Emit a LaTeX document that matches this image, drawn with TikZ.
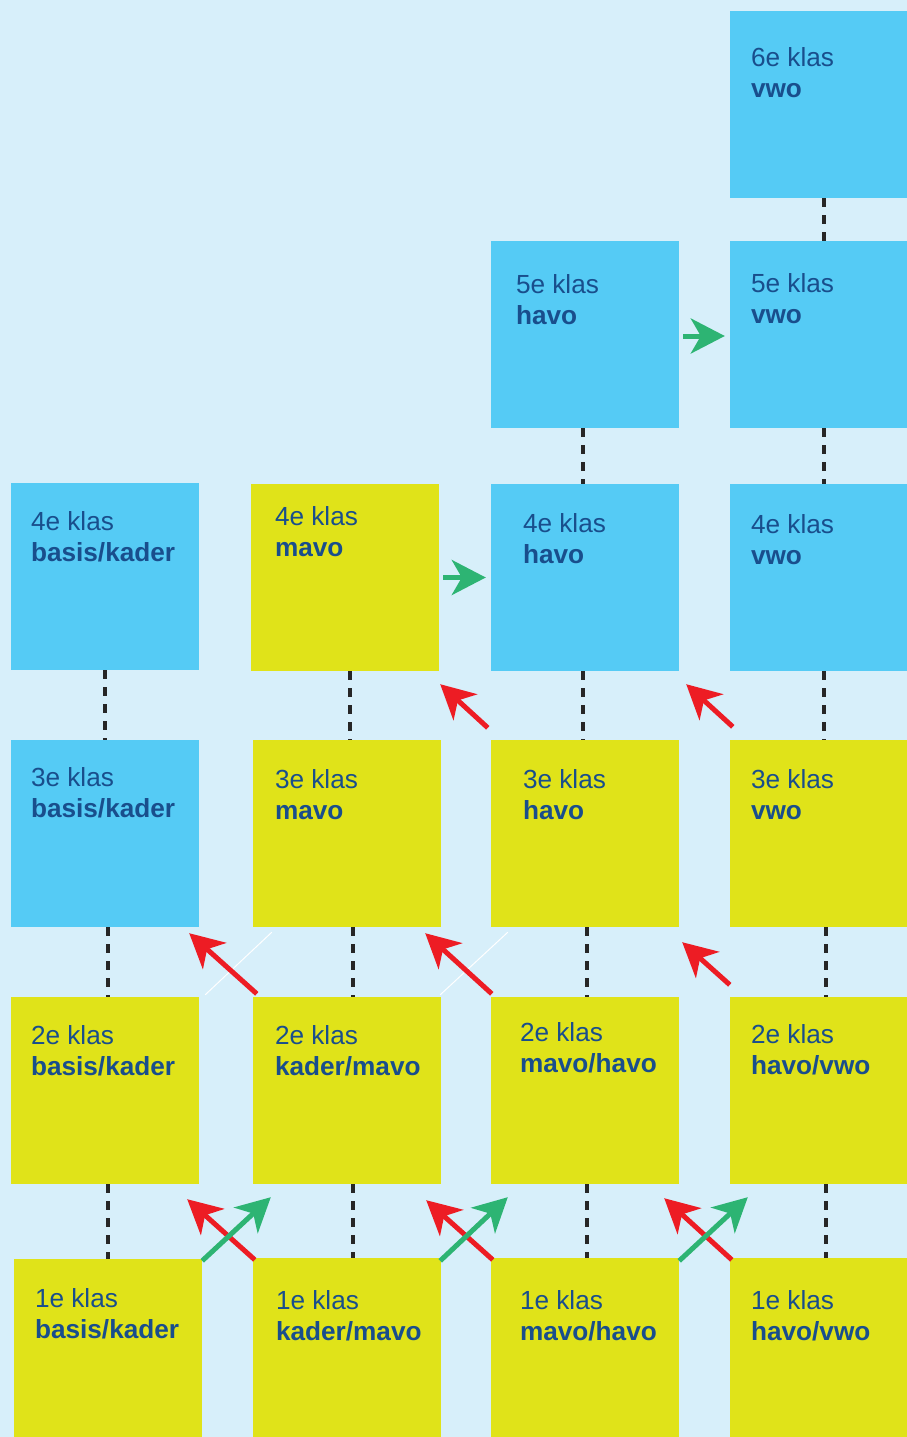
\documentclass[tikz,border=0pt]{standalone}
\usepackage{fontspec}
\setmainfont{Liberation Sans}
\usepackage{tikz}
\usetikzlibrary{arrows.meta, calc}

\definecolor{achtergrond}{RGB}{215,239,250}
\definecolor{klasblauw}{RGB}{85,203,245}
\definecolor{klasgeel}{RGB}{224,227,25}
\definecolor{klastekst}{RGB}{25,78,140}
\definecolor{pijlrood}{RGB}{237,28,36}
\definecolor{pijlgroen}{RGB}{45,180,115}

\begin{document}
\begin{tikzpicture}[x=1pt, y=-1pt]
    % --- Styles ---
    \tikzstyle{klas}=[rectangle, inner sep=0pt, minimum width=188pt, minimum height=187pt]
    \tikzstyle{blauw}=[klas, fill=klasblauw]
    \tikzstyle{geel}=[klas, fill=klasgeel]
    \tikzstyle{naam}=[anchor=north west, inner sep=0pt, align=left, text=klastekst, font=\fontsize{26.2}{31}\selectfont]
    \tikzstyle{doorloop}=[line width=4pt, color=black!85, dash pattern=on 9pt off 8pt]
    \tikzstyle{omlaag}=[line width=5pt, color=pijlrood, -{Stealth[length=34pt, width=35pt, inset=10pt]}]
    \tikzstyle{omhoog}=[line width=5pt, color=pijlgroen, -{Stealth[length=34pt, width=35pt, inset=10pt]}]
    \tikzstyle{naad}=[line width=1pt, color=white]

    % --- Background ---
    \fill[achtergrond] (0,0) rectangle (907,1437);
    \useasboundingbox (0,0) rectangle (907,1437);
    \clip (0,0) rectangle (907,1437);

    % --- 1. Klassen (boxes) ---
    \node[blauw] (k6v) at (824,104.5) {};

    \node[blauw] (k5h) at (585,334.5) {};
    \node[blauw] (k5v) at (824,334.5) {};

    \node[blauw] (k4bk) at (105,576.5) {};
    \node[geel]  (k4m)  at (345,577.5) {};
    \node[blauw] (k4h)  at (585,577.5) {};
    \node[blauw] (k4v)  at (824,577.5) {};

    \node[blauw] (k3bk) at (105,833.5) {};
    \node[geel]  (k3m)  at (347,833.5) {};
    \node[geel]  (k3h)  at (585,833.5) {};
    \node[geel]  (k3v)  at (824,833.5) {};

    \node[geel] (k2bk) at (105,1090.5) {};
    \node[geel] (k2km) at (347,1090.5) {};
    \node[geel] (k2mh) at (585,1090.5) {};
    \node[geel] (k2hv) at (824,1090.5) {};

    \node[geel] (k1bk) at (108,1352.5) {};
    \node[geel] (k1km) at (347,1351.5) {};
    \node[geel] (k1mh) at (585,1351.5) {};
    \node[geel] (k1hv) at (824,1351.5) {};

    % --- 2. Namen ---
    \node[naam] (t6v) at ([shift={(21,37)}]k6v.north west) {6e klas\\\textbf{vwo}};
    \node[naam] (t5h) at ([shift={(25,34)}]k5h.north west) {5e klas\\\textbf{havo}};
    \node[naam] (t5v) at ([shift={(21,33)}]k5v.north west) {5e klas\\\textbf{vwo}};
    \node[naam] (t4bk) at ([shift={(20,29)}]k4bk.north west) {4e klas\\\textbf{basis/kader}};
    \node[naam] (t4m) at ([shift={(24,23)}]k4m.north west) {4e klas\\\textbf{mavo}};
    \node[naam] (t4h) at ([shift={(32,30)}]k4h.north west) {4e klas\\\textbf{havo}};
    \node[naam] (t4v) at ([shift={(21,31)}]k4v.north west) {4e klas\\\textbf{vwo}};
    \node[naam] (t3bk) at ([shift={(20,28)}]k3bk.north west) {3e klas\\\textbf{basis/kader}};
    \node[naam] (t3m) at ([shift={(22,30)}]k3m.north west) {3e klas\\\textbf{mavo}};
    \node[naam] (t3h) at ([shift={(32,30)}]k3h.north west) {3e klas\\\textbf{havo}};
    \node[naam] (t3v) at ([shift={(21,30)}]k3v.north west) {3e klas\\\textbf{vwo}};
    \node[naam] (t2bk) at ([shift={(20,29)}]k2bk.north west) {2e klas\\\textbf{basis/kader}};
    \node[naam] (t2km) at ([shift={(22,29)}]k2km.north west) {2e klas\\\textbf{kader/mavo}};
    \node[naam] (t2mh) at ([shift={(29,26)}]k2mh.north west) {2e klas\\\textbf{mavo/havo}};
    \node[naam] (t2hv) at ([shift={(21,28)}]k2hv.north west) {2e klas\\\textbf{havo/vwo}};
    \node[naam] (t1bk) at ([shift={(21,29)}]k1bk.north west) {1e klas\\\textbf{basis/kader}};
    \node[naam] (t1km) at ([shift={(23,32)}]k1km.north west) {1e klas\\\textbf{kader/mavo}};
    \node[naam] (t1mh) at ([shift={(29,32)}]k1mh.north west) {1e klas\\\textbf{mavo/havo}};
    \node[naam] (t1hv) at ([shift={(21,32)}]k1hv.north west) {1e klas\\\textbf{havo/vwo}};

    % --- 3. Doorlopende leerjaren (dashed) ---
    \draw[doorloop] (k6v.south) -- (k5v.north);
    \draw[doorloop] (k5v.south) -- (k4v.north);
    \draw[doorloop] (k4v.south) -- (k3v.north);
    \draw[doorloop] ([xshift=2]k3v.south) -- ([xshift=2]k2hv.north);
    \draw[doorloop] ([xshift=2]k2hv.south) -- ([xshift=2]k1hv.north);
    \draw[doorloop] ([xshift=-2]k5h.south) -- ([xshift=-2]k4h.north);
    \draw[doorloop] ([xshift=-2]k4h.south) -- ([xshift=-2]k3h.north);
    \draw[doorloop] ([xshift=2]k3h.south) -- ([xshift=2]k2mh.north);
    \draw[doorloop] ([xshift=2]k2mh.south) -- ([xshift=2]k1mh.north);
    \draw[doorloop] ([xshift=5]k4m.south) -- ([xshift=3]k3m.north);
    \draw[doorloop] ([xshift=6]k3m.south) -- ([xshift=6]k2km.north);
    \draw[doorloop] ([xshift=6]k2km.south) -- ([xshift=6]k1km.north);
    \draw[doorloop] (k4bk.south) -- (k3bk.north);
    \draw[doorloop] ([xshift=3]k3bk.south) -- (k2bk.north -| k1bk.north);
    \draw[doorloop] (k2bk.south -| k1bk.north) -- (k1bk.north);

    % --- 4. Naden ---
    \draw[naad] ([shift={(6,-2)}]k2bk.north east) -- ([shift={(19,5)}]k3m.south west);
    \draw[naad] ([shift={(-1,-2)}]k2km.north east) -- ([shift={(17,5)}]k3h.south west);

    % --- 5. Afstromen (red) ---
    \draw[omlaag] ([shift={(-3,-12)}]k3h.north west) -- ([shift={(1,13)}]k4m.south east);
    \draw[omlaag] ([shift={(3,-13)}]k3v.north west) -- ([shift={(7,13)}]k4h.south east);
    \draw[omlaag] ([shift={(4,-3)}]k2km.north west) -- ([shift={(-10,6)}]k3bk.south east);
    \draw[omlaag] ([shift={(1,-3)}]k2mh.north west) -- ([shift={(-16,6)}]k3m.south east);
    \draw[omlaag] ([shift={(0,-12)}]k2hv.north west) -- ([shift={(3,15)}]k3h.south east);
    \draw[omlaag] ([shift={(2,2)}]k1km.north west) -- ([shift={(-12,15)}]k2bk.south east);
    \draw[omlaag] ([shift={(2,2)}]k1mh.north west) -- ([shift={(-15,16)}]k2km.south east);
    \draw[omlaag] ([shift={(2,2)}]k1hv.north west) -- ([shift={(-15,14)}]k2mh.south east);

    % --- 6. Opstromen (green) ---
    \draw[omhoog] ([shift={(0,2)}]k1bk.north east) -- ([shift={(18,13)}]k2km.south west);
    \draw[omhoog] ([shift={(-1,3)}]k1km.north east) -- ([shift={(17,13)}]k2mh.south west);
    \draw[omhoog] ([shift={(0,3)}]k1mh.north east) -- ([shift={(18,13)}]k2hv.south west);
    \draw[omhoog] ([shift={(4,1.5)}]k5h.east) -- ([shift={(-5,1.5)}]k5v.west);
    \draw[omhoog] ([shift={(4,0)}]k4m.east) -- ([shift={(-5,0)}]k4h.west);

\end{tikzpicture}
\end{document}
